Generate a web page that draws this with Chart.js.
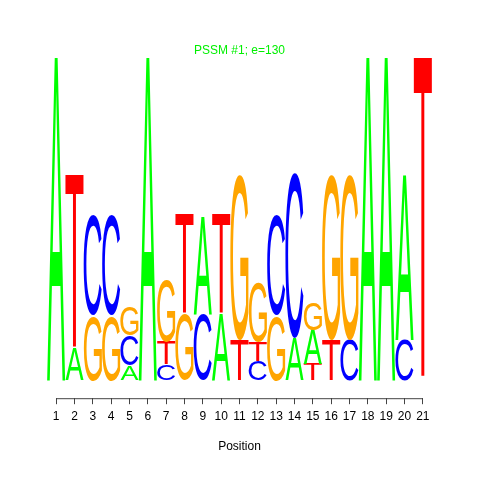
<!DOCTYPE html>
<html>
<head>
<meta charset="utf-8">
<script src="https://cdn.jsdelivr.net/npm/chart.js@4"></script>
<style>
  html, body { margin: 0; padding: 0; background: #fff; }
  #wrap { width: 480px; height: 480px; }
</style>
</head>
<body>
<div id="wrap"><canvas id="logo"></canvas></div>
<script>
// sequence logo data (heights in bits)
const positions = ['1','2','3','4','5','6','7','8','9','10','11','12','13','14','15','16','17','18','19','20','21'];

const bottomLetters = ['A','A','G','G','A','A','C','G','C','A','T','C','G','A','T','T','C','A','A','C','T'];
const bottomBits    = [2.0,0.20,0.40,0.40,0.09,2.0,0.10,0.41,0.41,0.41,0.25,0.12,0.40,0.26,0.10,0.25,0.25,2.0,2.0,0.25,2.0];

const middleLetters = ['','T','C','C','C','','T','T','A','T','G','T','C','C','A','G','G','','','A',''];
const middleBits    = [0,1.08,0.62,0.62,0.19,0,0.14,0.62,0.60,0.62,1.02,0.12,0.62,1.02,0.21,1.02,1.02,0,0,1.02,0];

const topLetters = ['','','','','G','','G','','','','','G','','','G','','','','','',''];
const topBits    = [0,0,0,0,0.18,0,0.38,0,0,0,0,0.37,0,0,0.17,0,0,0,0,0,0];

const letterColors = { A: '#00ff00', C: '#0000ff', G: '#ffa500', T: '#ff0000' };

const layers = [
    { letters: bottomLetters, bits: bottomBits },
    { letters: middleLetters, bits: middleBits },
    { letters: topLetters, bits: topBits }
];

// draws each letter stretched into its bar rectangle
const letterPlugin = {
    id: 'letters',
    afterDatasetsDraw(chart) {
        const ctx = chart.ctx;
        const font = '100px "Liberation Sans", Arial, sans-serif';
        chart.data.datasets.forEach((ds, di) => {
            const meta = chart.getDatasetMeta(di);
            meta.data.forEach((bar, i) => {
                const letter = ds.letters[i];
                if (!letter || !ds.data[i]) return;
                const p = bar.getProps(['x', 'y', 'base', 'width'], true);
                const top = Math.min(p.y, p.base);
                const h = Math.abs(p.base - p.y);
                if (h < 0.5) return;
                ctx.save();
                ctx.font = font;
                ctx.textAlign = 'left';
                ctx.textBaseline = 'alphabetic';
                const m = ctx.measureText(letter);
                const bw = m.actualBoundingBoxLeft + m.actualBoundingBoxRight;
                const bh = m.actualBoundingBoxAscent + m.actualBoundingBoxDescent;
                ctx.translate(p.x - p.width / 2, top);
                ctx.scale(p.width / bw, h / bh);
                ctx.fillStyle = letterColors[letter];
                ctx.fillText(letter, m.actualBoundingBoxLeft, m.actualBoundingBoxAscent);
                ctx.restore();
            });
        });
    }
};

// R-style axis line, only from first to last tick
const axisLinePlugin = {
    id: 'axisLine',
    afterDraw(chart) {
        const xs = chart.scales.x;
        const ctx = chart.ctx;
        const x0 = xs.getPixelForTick(0);
        const x1 = xs.getPixelForTick(positions.length - 1);
        ctx.save();
        ctx.strokeStyle = '#444';
        ctx.lineWidth = 1;
        ctx.beginPath();
        ctx.moveTo(x0, xs.top + 0.5);
        ctx.lineTo(x1, xs.top + 0.5);
        ctx.stroke();
        ctx.restore();
    }
};

const datasets = layers.map((l, k) => ({
    label: 'layer' + k,
    data: l.bits,
    letters: l.letters,
    backgroundColor: 'rgba(0,0,0,0)',
    borderWidth: 0,
    barPercentage: 0.99,
    categoryPercentage: 1.0
}));

new Chart(document.getElementById('logo'), {
    type: 'bar',
    data: { labels: positions, datasets: datasets },
    options: {
        responsive: true,
        maintainAspectRatio: false,
        animation: false,
        layout: { padding: { left: 47, right: 48, top: 0, bottom: 26 } },
        plugins: {
            legend: { display: false },
            tooltip: { enabled: false },
            title: {
                display: true,
                text: 'PSSM #1; e=130',
                color: '#00f000',
                font: { family: '"Liberation Sans", Arial, sans-serif', size: 12, weight: 'normal', lineHeight: 1 },
                padding: { top: 45, bottom: 0 }
            }
        },
        scales: {
            x: {
                stacked: true,
                grid: { display: true, drawOnChartArea: false, offset: false, tickLength: 6, color: '#444' },
                border: { display: false },
                ticks: {
                    color: '#000',
                    padding: 5,
                    autoSkip: false,
                    maxRotation: 0,
                    font: { family: '"Liberation Sans", Arial, sans-serif', size: 12 }
                },
                title: {
                    display: true,
                    text: 'Position',
                    color: '#000',
                    font: { family: '"Liberation Sans", Arial, sans-serif', size: 12 },
                    padding: { top: 11, bottom: 0 }
                }
            },
            y: {
                stacked: true,
                display: false,
                min: -0.11,
                max: 2.0
            }
        }
    },
    plugins: [letterPlugin, axisLinePlugin]
});
</script>
</body>
</html>
